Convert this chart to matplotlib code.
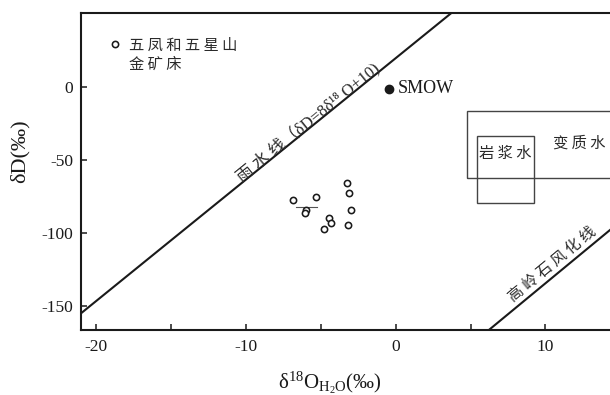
import numpy as np
import matplotlib
matplotlib.use("Agg")
import matplotlib.pyplot as plt
from matplotlib.lines import Line2D
from matplotlib.patches import Rectangle
from matplotlib.ticker import FixedLocator

plt.rcParams['axes.unicode_minus'] = False
plt.rcParams['mathtext.fontset'] = 'custom'
plt.rcParams['mathtext.rm'] = 'Liberation Serif'
plt.rcParams['mathtext.it'] = 'Liberation Serif:italic'

SERIF = ['Liberation Serif', 'DejaVu Serif', 'Noto Sans CJK SC']
CJK = ['Noto Sans CJK SC', 'Liberation Serif', 'DejaVu Serif']
MIX = ['Liberation Serif', 'DejaVu Serif', 'Noto Sans CJK SC']

# ---------------- data ----------------
sample_d18O = [-6.87, -5.31, -3.22, -3.13, -3.00, -5.98, -6.07, -4.43, -4.29, -4.78, -3.16]
sample_dD = [-77.8, -75.5, -66.2, -73.0, -84.5, -84.5, -86.3, -89.9, -93.4, -97.7, -94.5]

bar_x = [-6.65, -5.27]
bar_y = [-82.6, -82.6]

smow_x = [-0.44]
smow_y = [-1.4]

mwl_x = [-22.0, 4.0]
mwl_y = [-163.5, 52.8]

kaol_x = [6.0, 16.0]
kaol_y = [-168.5, -83.8]

magmatic_box = (5.41, 9.22, -79.9, -33.8)     # x0, x1, y0, y1
metamorphic_box = (4.79, 25.0, -62.7, -16.4)

x_major = [-20, -10, 0, 10]
x_minor = [-15, -5, 5]
y_major = [0, -50, -100, -150]
xlim = (-21.02, 14.31)
ylim = (-166.6, 50.7)

legend_lines = ["五 凤 和 五 星 山", "金 矿 床"]
mwl_label = "雨 水 线（δD=8δ¹⁸ O+10)"
kaol_label = "高 岭 石 风 化 线"
magmatic_label = "岩 浆 水"
metamorphic_label = "变 质 水"

# ---------------- figure ----------------
fig = plt.figure(figsize=(6.1, 3.95), dpi=100)
ax = fig.add_axes([80.7 / 610, 1 - 330 / 395, 529.3 / 610, 317.3 / 395])
ax.set_xlim(*xlim)
ax.set_ylim(*ylim)

ink = '#1a1a1a'
cjk_ink = '#2a2a2a'
for s in ['left', 'bottom', 'top']:
    ax.spines[s].set_linewidth(1.5)
    ax.spines[s].set_color(ink)
ax.spines['right'].set_visible(False)

ax.xaxis.set_major_locator(FixedLocator(x_major))
ax.xaxis.set_minor_locator(FixedLocator(x_minor))
ax.yaxis.set_major_locator(FixedLocator(y_major))
ax.tick_params(axis='both', which='both', direction='in', length=4.3, width=1.1,
               color=ink, top=False, right=False)
ax.tick_params(axis='x', which='major', pad=6.8, labelsize=12.5, labelcolor=ink)
ax.tick_params(axis='y', which='major', pad=5.5, labelsize=12.5, labelcolor=ink)
for lab in ax.get_xticklabels() + ax.get_yticklabels():
    lab.set_family(SERIF)

# lines
ax.plot(mwl_x, mwl_y, color=ink, lw=1.5, solid_capstyle='butt')
ax.plot(kaol_x, kaol_y, color=ink, lw=1.5, solid_capstyle='butt')

# boxes
for (x0, x1, y0, y1) in [metamorphic_box, magmatic_box]:
    ax.add_patch(Rectangle((x0, y0), x1 - x0, y1 - y0, fill=False,
                           ec='#444444', lw=1.0))

# samples
ax.plot(bar_x, bar_y, color='#555555', lw=0.8)
ax.plot(sample_d18O, sample_dD, ls='none', marker='o', ms=4.5, mfc='white',
        mec=ink, mew=1.15)
ax.plot(smow_x, smow_y, ls='none', marker='o', ms=6, mfc=ink, mec=ink)
ax.annotate('SMOW', (smow_x[0], smow_y[0]), xytext=(6.5, 0), textcoords='offset points',
            va='center', ha='left', fontsize=13, family=SERIF, color=ink)

# box labels
ax.text((magmatic_box[0] + magmatic_box[1]) / 2, magmatic_box[3] - 12, magmatic_label,
        ha='center', va='center', fontsize=11, family=CJK, color=cjk_ink)
ax.text(12.25, -38.5, metamorphic_label, ha='center', va='center', fontsize=11,
        family=CJK, color=cjk_ink)

# rotated line labels
fig.canvas.draw()
def angle_of(xs, ys):
    p = ax.transData.transform(np.column_stack([xs, ys]))
    return np.degrees(np.arctan2(p[1, 1] - p[0, 1], p[1, 0] - p[0, 0]))

ax.text(-5.85, -24.5, mwl_label, rotation=angle_of(mwl_x, mwl_y), rotation_mode='anchor',
        ha='center', va='center', fontsize=12, family=MIX, color=cjk_ink)
ax.text(10.45, -121.5, kaol_label, rotation=angle_of(kaol_x, kaol_y), rotation_mode='anchor',
        ha='center', va='center', fontsize=11, family=CJK, color=cjk_ink)

# legend
handles = [Line2D([], [], ls='none', marker='o', ms=4.5, mfc='white', mec=ink, mew=1.15),
           Line2D([], [], ls='none')]
leg = ax.legend(handles, legend_lines, loc='upper left', bbox_to_anchor=(0.0525, 0.925),
                frameon=False, prop={'family': CJK, 'size': 11}, handlelength=0.8,
                handletextpad=0.55, labelspacing=0.12, borderpad=0, borderaxespad=0)
for t in leg.get_texts():
    t.set_color(cjk_ink)

# axis labels
ax.set_xlabel(r'δ$^{\mathrm{18}}$O$_{\mathrm{H_2O}}$(‰)', fontsize=15, family='Liberation Serif',
              color=ink)
ax.xaxis.set_label_coords(0.471, -0.167)
ax.xaxis.label.set_va('center')
ax.set_ylabel('δD(‰)', fontsize=16, family=SERIF, color=ink)
ax.yaxis.set_label_coords(-0.115, 0.564)
ax.yaxis.label.set_va('center')

fig.savefig('out.png', dpi=100)
